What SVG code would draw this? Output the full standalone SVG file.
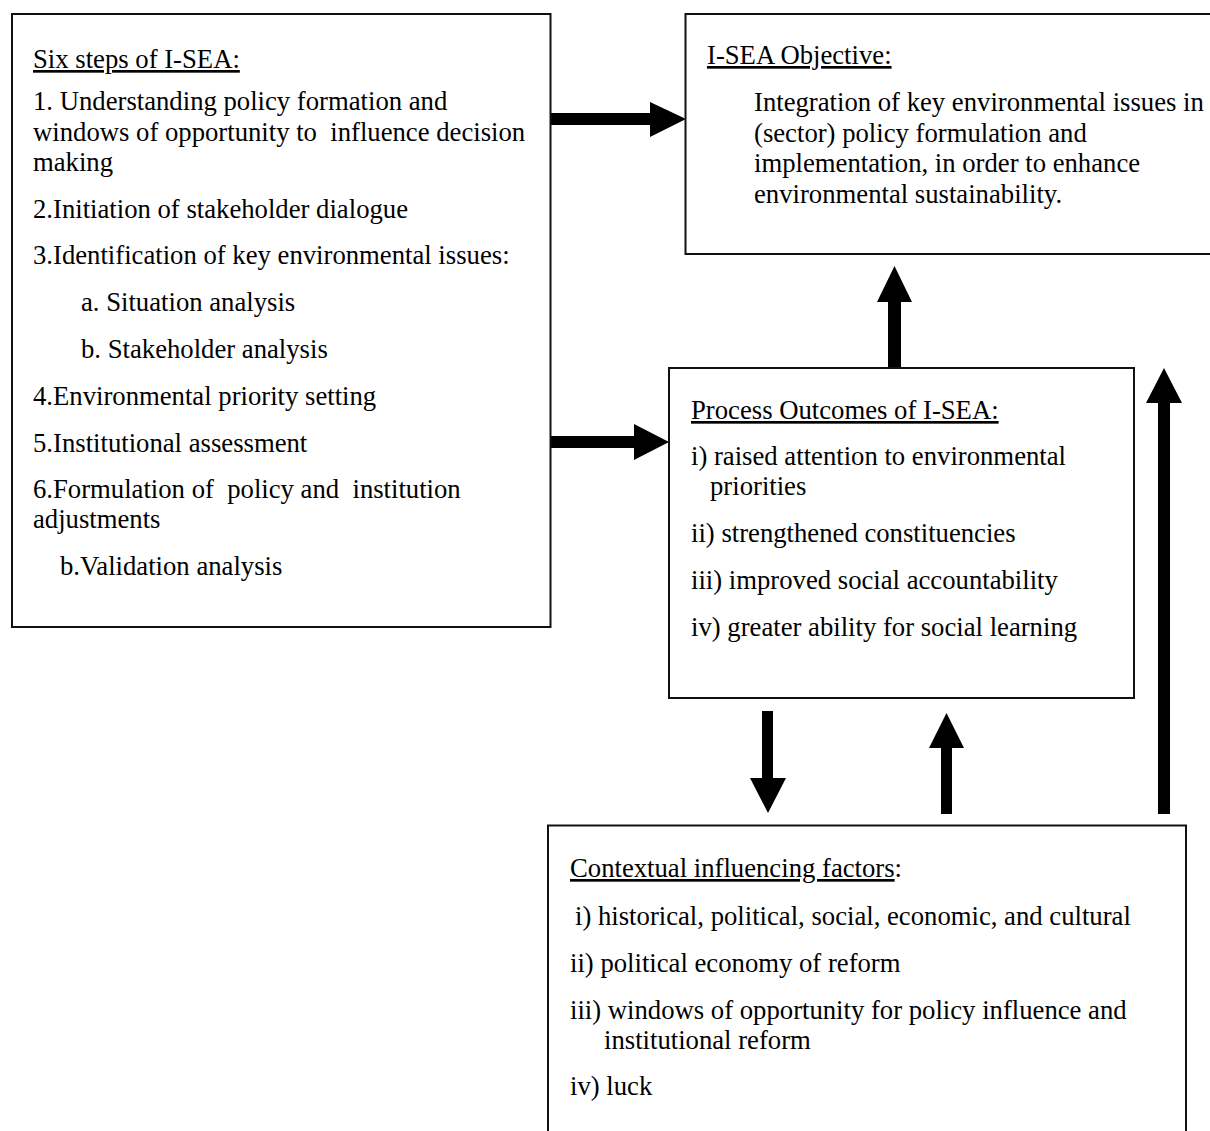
<svg xmlns="http://www.w3.org/2000/svg" width="1210" height="1131" viewBox="0 0 1210 1131">
  <style>
    .box { fill: #fff; stroke: #111; stroke-width: 2; }
    .t { font-family: "Liberation Serif", "Times New Roman", serif; font-size: 26.7px; fill: #000; }
    .u { text-decoration: underline; }
    .arrow { fill: #000; }
  </style>
  <rect x="0" y="0" width="1210" height="1131" fill="#fff"/>

  <g id="connectors">
    <!-- steps -> objective -->
    <polygon class="arrow" points="550,113 650,113 650,102 686,119 650,137 650,125 550,125"/>
    <!-- steps -> process outcomes -->
    <polygon class="arrow" points="550,436 634,436 634,424 669,442 634,460 634,448 550,448"/>
    <!-- process outcomes -> objective -->
    <polygon class="arrow" points="888,368 888,302 877,302 894.5,266 912,302 901,302 901,368"/>
    <!-- contextual factors -> objective -->
    <polygon class="arrow" points="1158,814 1158,403 1146,403 1164,368 1182,403 1170,403 1170,814"/>
    <!-- process outcomes -> contextual factors -->
    <polygon class="arrow" points="762,711 773,711 773,778 786,778 768,813 750,778 762,778"/>
    <!-- contextual factors -> process outcomes -->
    <polygon class="arrow" points="941,814 941,748 929,748 946.5,713 964,748 952,748 952,814"/>
  </g>

  <g id="six-steps">
    <rect class="box" x="12" y="14" width="538.5" height="613"/>
    <text class="t" x="33" y="68"><tspan class="u">Six steps of I-SEA:</tspan></text>
    <text class="t" x="33" y="110">1. Understanding policy formation and</text>
    <text class="t" x="33" y="141" xml:space="preserve">windows of opportunity to  influence decision</text>
    <text class="t" x="33" y="171">making</text>
    <text class="t" x="33" y="218">2.Initiation of stakeholder dialogue</text>
    <text class="t" x="33" y="264">3.Identification of key environmental issues:</text>
    <text class="t" x="81" y="311">a. Situation analysis</text>
    <text class="t" x="81" y="358">b. Stakeholder analysis</text>
    <text class="t" x="33" y="405">4.Environmental priority setting</text>
    <text class="t" x="33" y="452">5.Institutional assessment</text>
    <text class="t" x="33" y="498" xml:space="preserve">6.Formulation of  policy and  institution</text>
    <text class="t" x="33" y="528">adjustments</text>
    <text class="t" x="60" y="575">b.Validation analysis</text>
  </g>

  <g id="objective">
    <rect class="box" x="685.5" y="14" width="530" height="240"/>
    <text class="t" x="707" y="64"><tspan class="u">I-SEA Objective:</tspan></text>
    <text class="t" x="754" y="111">Integration of key environmental issues in</text>
    <text class="t" x="754" y="142">(sector) policy formulation and</text>
    <text class="t" x="754" y="172">implementation, in order to enhance</text>
    <text class="t" x="754" y="203">environmental sustainability.</text>
  </g>

  <g id="process-outcomes">
    <rect class="box" x="669" y="368" width="465" height="330"/>
    <text class="t" x="691" y="419"><tspan class="u">Process Outcomes of I-SEA:</tspan></text>
    <text class="t" x="691" y="465">i) raised attention to environmental</text>
    <text class="t" x="710" y="495">priorities</text>
    <text class="t" x="691" y="542">ii) strengthened constituencies</text>
    <text class="t" x="691" y="589">iii) improved social accountability</text>
    <text class="t" x="691" y="636">iv) greater ability for social learning</text>
  </g>

  <g id="contextual-factors">
    <rect class="box" x="548" y="825.5" width="638" height="320"/>
    <text class="t" x="570" y="877"><tspan class="u">Contextual influencing factors</tspan>:</text>
    <text class="t" x="575" y="925">i) historical, political, social, economic, and cultural</text>
    <text class="t" x="570" y="972">ii) political economy of reform</text>
    <text class="t" x="570" y="1019">iii) windows of opportunity for policy influence and</text>
    <text class="t" x="604" y="1049">institutional reform</text>
    <text class="t" x="570" y="1095">iv) luck</text>
  </g>
</svg>
